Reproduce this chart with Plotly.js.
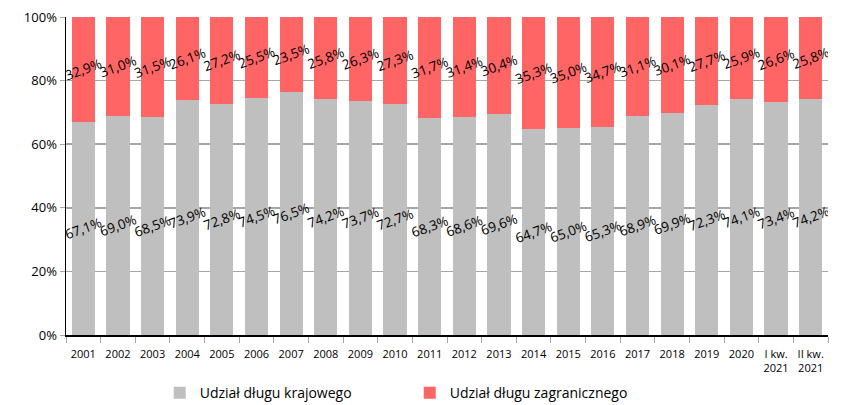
<!DOCTYPE html>
<html>
<head>
<meta charset="utf-8">
<script src="https://cdn.plot.ly/plotly-3.0.1.min.js"></script>
<style>html,body{margin:0;padding:0;background:#fff;}#chart{width:850px;height:405px;}</style>
</head>
<body>
<div id="chart"></div>
<script>
const categories = ['2001','2002','2003','2004','2005','2006','2007','2008','2009','2010','2011','2012','2013','2014','2015','2016','2017','2018','2019','2020','I kw.<br>2021','II kw.<br>2021'];
const domestic = [67.1,69.0,68.5,73.9,72.8,74.5,76.5,74.2,73.7,72.7,68.3,68.6,69.6,64.7,65.0,65.3,68.9,69.9,72.3,74.1,73.4,74.2];
const foreign = [32.9,31.0,31.5,26.1,27.2,25.5,23.5,25.8,26.3,27.3,31.7,31.4,30.4,35.3,35.0,34.7,31.1,30.1,27.7,25.9,26.6,25.8];
const seriesNames = ['Udział długu krajowego','Udział długu zagranicznego'];

const fmt = v => v.toFixed(1).replace('.', ',') + '%';
const labelFont = {family: 'Open Sans, sans-serif', size: 13.5, color: '#000'};

const traces = [
  {type:'bar', name:seriesNames[0], x:categories, y:domestic, text:domestic.map(fmt),
   textposition:'inside', insidetextanchor:'middle', textangle:-20, constraintext:'none',
   textfont:labelFont, marker:{color:'#bfbfbf'}, hoverinfo:'skip'},
  {type:'bar', name:seriesNames[1], x:categories, y:foreign, text:foreign.map(fmt),
   textposition:'inside', insidetextanchor:'middle', textangle:-20, constraintext:'none',
   textfont:labelFont, marker:{color:'#ff6565'}, hoverinfo:'skip'}
];

const layout = {
  width:850, height:405,
  margin:{l:66, r:22, t:17, b:70, autoexpand:false},
  barmode:'stack', bargap:0.33,
  paper_bgcolor:'#fff', plot_bgcolor:'#fff',
  font:{family:'Open Sans, sans-serif', size:12, color:'#000'},
  xaxis:{type:'category', showline:true, linecolor:'#000', linewidth:1.5,
    ticks:'outside', tickson:'boundaries', ticklen:6, tickcolor:'#a6a6a6',
    tickangle:0, automargin:false, ticklabelstandoff:8,
    tickfont:{size:11, family:'Open Sans, sans-serif'}, showgrid:false},
  yaxis:{range:[0,100], dtick:20, ticksuffix:'%', showline:true, linecolor:'#000', linewidth:1.5,
    ticks:'outside', ticklen:5, tickcolor:'#a6a6a6', gridcolor:'#a6a6a6', gridwidth:1.5,
    zeroline:false, automargin:false, tickfont:{size:13}},
  showlegend:true,
  legend:{orientation:'h', x:0.123, xanchor:'left', y:-0.183, yanchor:'middle',
    entrywidth:205, entrywidthmode:'pixels', font:{size:14}, traceorder:'normal'}
};

Plotly.newPlot('chart', traces, layout, {displayModeBar:false, staticPlot:true});
</script>
</body>
</html>
